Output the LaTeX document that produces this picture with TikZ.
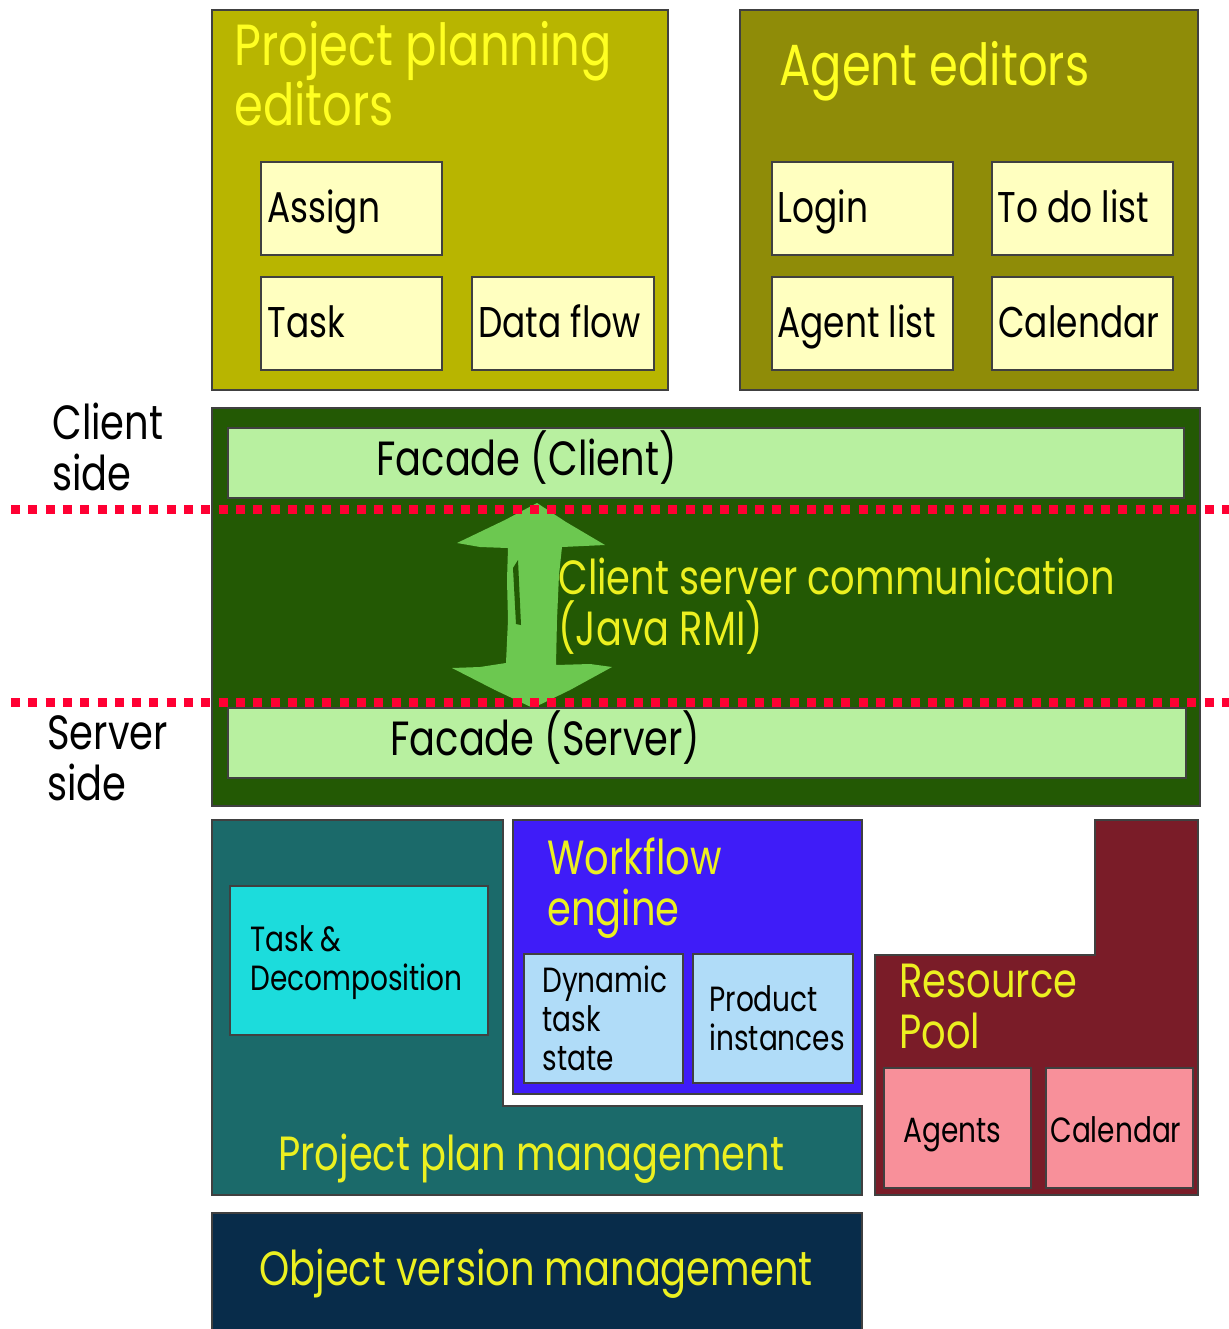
\documentclass[tikz,border=0pt]{standalone}
\usepackage{fontspec}
\setmainfont{Poppins}[FakeStretch=0.8]
\usepackage{tikz}

\definecolor{planbg}{HTML}{B8B500}
\definecolor{agentbg}{HTML}{8F8C08}
\definecolor{editfill}{HTML}{FFFFC0}
\definecolor{topyellow}{HTML}{FFFF22}
\definecolor{lowyellow}{HTML}{ECF020}
\definecolor{commgreen}{HTML}{235904}
\definecolor{facadefill}{HTML}{B8F0A0}
\definecolor{arrowgreen}{HTML}{6CC850}
\definecolor{cutred}{HTML}{FF0033}
\definecolor{planteal}{HTML}{1B6A6A}
\definecolor{taskcyan}{HTML}{1CDCDC}
\definecolor{flowblue}{HTML}{3F1CF8}
\definecolor{flowfill}{HTML}{B0DCF8}
\definecolor{poolred}{HTML}{7A1C28}
\definecolor{poolfill}{HTML}{F8909A}
\definecolor{versionnavy}{HTML}{082C4A}

\newcommand{\titlefont}{\fontsize{29}{30}\selectfont}
\newcommand{\partfont}{\fontsize{24}{25.5}\selectfont}
\newcommand{\boxfont}{\fontsize{21.5}{22}\selectfont}
\newcommand{\smallfont}{\fontsize{17.5}{19.5}\selectfont}

\begin{document}
\begin{tikzpicture}[x=0.5pt, y=-0.5pt,
	panel/.style={draw=black!75, line width=0.7pt},
	txt/.style={anchor=base west, inner sep=0pt, align=left},
	cutline/.style={cutred, line width=4.5pt, dash pattern=on 4.5pt off 4.15pt}]
\useasboundingbox (0,0) rectangle (1229,1329);

% editors on the client
\draw[panel, fill=planbg] (212,10) rectangle (668,390);
\node[txt, text=topyellow, font=\titlefont] (plantitle) at (234,125) {Project planning\\editors};
\draw[panel, fill=editfill] (261,162) rectangle (442,255);
\draw[panel, fill=editfill] (261,277) rectangle (442,370);
\draw[panel, fill=editfill] (472,277) rectangle (654,370);
\node[txt, font=\boxfont] (assign) at (267,222) {Assign};
\node[txt, font=\boxfont] (task) at (267,337) {Task};
\node[txt, font=\boxfont] (dataflow) at (478,337) {Data flow};

\draw[panel, fill=agentbg] (740,10) rectangle (1198,390);
\node[txt, text=topyellow, font=\titlefont] (agenttitle) at (779,85) {Agent editors};
\foreach \x/\y in {772/162, 992/162, 772/277, 992/277}
	\draw[panel, fill=editfill] (\x,\y) rectangle ++(181,93);
\node[txt, font=\boxfont] (login) at (777,222) {Login};
\node[txt, font=\boxfont] (todo) at (997,222) {To do list};
\node[txt, font=\boxfont] (agentlist) at (777,337) {Agent list};
\node[txt, font=\boxfont] (calendar) at (998,337) {Calendar};

% side labels
\node[txt, font=\partfont] (clientside) at (52,490) {Client\\side};
\node[txt, font=\partfont] (serverside) at (47,800) {Server\\side};

% communication layer
\draw[panel, fill=commgreen] (212,408) rectangle (1200,806);
\fill[arrowgreen] (537,503) -- (566,522) -- (605,545) -- (562,547) -- (559,575)
	-- (557,620) -- (556,665) -- (590,664) -- (612,667) -- (570,690) -- (533,708)
	-- (495,690) -- (452,668) -- (480,667) -- (506,663) -- (508,620) -- (507,580)
	-- (508,548) -- (480,547) -- (457,543) -- (505,520) -- cycle;
\fill[commgreen] (513,568) -- (518,560) -- (521,625) -- (516,624) -- cycle;
\draw[panel, fill=facadefill] (228,428) rectangle (1184,498);
\draw[panel, fill=facadefill] (228,708) rectangle (1186,778);
\node[txt, font=\partfont] (facadeclient) at (376,475) {Facade (Client)};
\node[txt, font=\partfont] (facadeserver) at (390,755) {Facade (Server)};
\node[txt, text=lowyellow, font=\partfont] (comm) at (558,645) {Client server communication\\(Java RMI)};
\draw[cutline] (11,509) -- (1229,509);
\draw[cutline] (11,702) -- (1229,702);

% server side parts
\draw[panel, fill=planteal] (212,820) -- (503,820) -- (503,1106) -- (862,1106)
	-- (862,1195) -- (212,1195) -- cycle;
\draw[panel, fill=taskcyan] (230,886) rectangle (488,1035);
\node[txt, font=\smallfont] (taskdecomp) at (250,990) {Task \&\\Decomposition};
\node[txt, text=lowyellow, font=\partfont] (planmgmt) at (278,1170) {Project plan management};

\draw[panel, fill=flowblue] (513,820) rectangle (862,1094);
\node[txt, text=lowyellow, font=\partfont] (workflow) at (547,925) {Workflow\\engine};
\draw[panel, fill=flowfill] (524,954) rectangle (683,1083);
\draw[panel, fill=flowfill] (693,954) rectangle (853,1083);
\node[txt, font=\smallfont] (taskstate) at (542,1070) {Dynamic\\task\\state};
\node[txt, font=\smallfont] (products) at (709,1050) {Product\\instances};

\draw[panel, fill=poolred] (1095,820) -- (1198,820) -- (1198,1195) -- (875,1195)
	-- (875,955) -- (1095,955) -- cycle;
\node[txt, text=lowyellow, font=\partfont] (pool) at (899,1048) {Resource\\Pool};
\draw[panel, fill=poolfill] (884,1068) rectangle (1031,1188);
\draw[panel, fill=poolfill] (1046,1068) rectangle (1193,1188);
\node[txt, font=\smallfont] (agents) at (903,1142) {Agents};
\node[txt, font=\smallfont] (poolcal) at (1050,1142) {Calendar};

\draw[panel, fill=versionnavy] (212,1213) rectangle (862,1340);
\node[txt, text=lowyellow, font=\partfont] (version) at (259,1285) {Object version management};
\end{tikzpicture}
\end{document}
